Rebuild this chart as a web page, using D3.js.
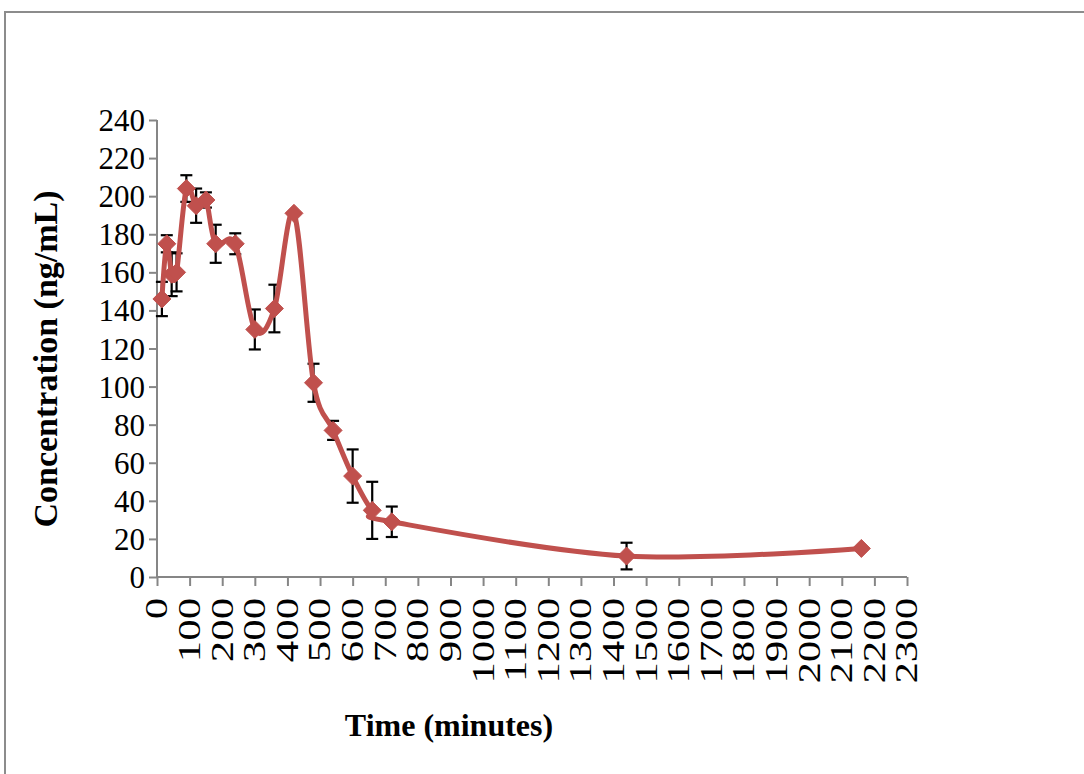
<!DOCTYPE html>
<html>
<head>
<meta charset="utf-8">
<script src="https://cdn.jsdelivr.net/npm/d3@7/dist/d3.min.js"></script>
<style>
  html, body { margin: 0; padding: 0; background: #fff; }
  svg { display: block; }
  text { font-family: "Liberation Serif", "Times New Roman", serif; fill: #000; }
</style>
</head>
<body>
<svg id="chart" width="1084" height="774"></svg>
<script>
// Sampling times (minutes)
const timeMin = [15, 30, 45, 60, 90, 120, 150, 180, 240, 300, 360, 420, 480, 540, 600, 660, 720, 1440, 2160];
// Mean concentration (ng/mL)
const concentration = [146, 175, 159, 160, 204, 195, 198, 175, 175, 130, 141, 191, 102, 77, 53, 35, 29, 11, 15];
// Standard deviation (ng/mL)
const errorSD = [9, 4.5, 11.5, 10, 7, 9, 4, 10, 5.5, 10.5, 12.5, 0, 10, 5, 14, 15, 8, 7, 0];

const yTicks = d3.range(0, 241, 20);
const xTicks = d3.range(0, 2301, 100);

const svg = d3.select("#chart");

// outer chart-area frame
svg.append("path")
  .attr("d", "M5,790 L5,12 L1100,12")
  .attr("fill", "none")
  .attr("stroke", "#8c8c8c")
  .attr("stroke-width", 2);

const x = d3.scaleLinear().domain([0, 2300]).range([157, 907]);
const y = d3.scaleLinear().domain([0, 240]).range([577, 120]);

// y axis
const yAxis = svg.append("g")
  .attr("transform", `translate(${x(0)},0)`)
  .call(d3.axisLeft(y).tickValues(yTicks).tickSize(8).tickPadding(4).tickFormat(d3.format("d")));
yAxis.selectAll("path, line").attr("stroke", "#868686").attr("stroke-width", 2);
yAxis.select(".domain").attr("d", `M0,${y(240)}V${y(0)}`);
yAxis.selectAll("text")
  .style("font-family", '"Liberation Serif", serif')
  .style("font-size", "31px")
  .attr("fill", "#000")
  .attr("dy", "0.34em");

// x axis, labels rotated and drawn in a narrow (tall) face
const labelStretch = 1.38;
const xAxis = svg.append("g")
  .attr("transform", `translate(0,${y(0)})`)
  .call(d3.axisBottom(x).tickValues(xTicks).tickSize(9).tickFormat(d3.format("d")));
xAxis.selectAll("path, line").attr("stroke", "#868686").attr("stroke-width", 2);
xAxis.select(".domain").attr("d", `M${x(0)},0H${x(2300)}`);
xAxis.selectAll("text")
  .style("font-family", '"Liberation Serif", serif')
  .style("font-size", "31px")
  .attr("fill", "#000")
  .attr("text-anchor", "end")
  .attr("transform", `rotate(-90) scale(${labelStretch},1)`)
  .attr("x", -21 / labelStretch)
  .attr("y", 0)
  .attr("dy", "0.32em");

// error bars
const pts = timeMin.map((t, i) => ({ t, c: concentration[i], e: errorSD[i] }));
const eb = svg.append("g").attr("stroke", "#000").attr("stroke-width", 2.2);
pts.filter(d => d.e > 0).forEach(d => {
  const cx = x(d.t);
  eb.append("line").attr("x1", cx).attr("x2", cx).attr("y1", y(d.c + d.e)).attr("y2", y(d.c - d.e));
  eb.append("line").attr("x1", cx - 6).attr("x2", cx + 6).attr("y1", y(d.c + d.e)).attr("y2", y(d.c + d.e));
  eb.append("line").attr("x1", cx - 6).attr("x2", cx + 6).attr("y1", y(d.c - d.e)).attr("y2", y(d.c - d.e));
});

// smoothed line
const line = d3.line().x(d => x(d.t)).y(d => y(d.c)).curve(d3.curveCardinal.tension(0));
svg.append("path")
  .datum(pts)
  .attr("d", line)
  .attr("fill", "none")
  .attr("stroke", "#C0504D")
  .attr("stroke-width", 5)
  .attr("stroke-linejoin", "round");

// diamond markers
svg.append("g").selectAll("path")
  .data(pts)
  .join("path")
  .attr("transform", d => `translate(${x(d.t)},${y(d.c)})`)
  .attr("d", "M0,-9L9,0L0,9L-9,0Z")
  .attr("fill", "#C0504D")
  .attr("stroke", "#C0504D")
  .attr("stroke-width", 1);

// axis titles
svg.append("text")
  .attr("transform", "translate(57,359) rotate(-90)")
  .attr("text-anchor", "middle")
  .style("font-size", "34px")
  .style("font-weight", "bold")
  .text("Concentration (ng/mL)");

svg.append("text")
  .attr("x", 449)
  .attr("y", 736)
  .attr("text-anchor", "middle")
  .style("font-size", "32px")
  .style("font-weight", "bold")
  .text("Time (minutes)");
</script>
</body>
</html>
